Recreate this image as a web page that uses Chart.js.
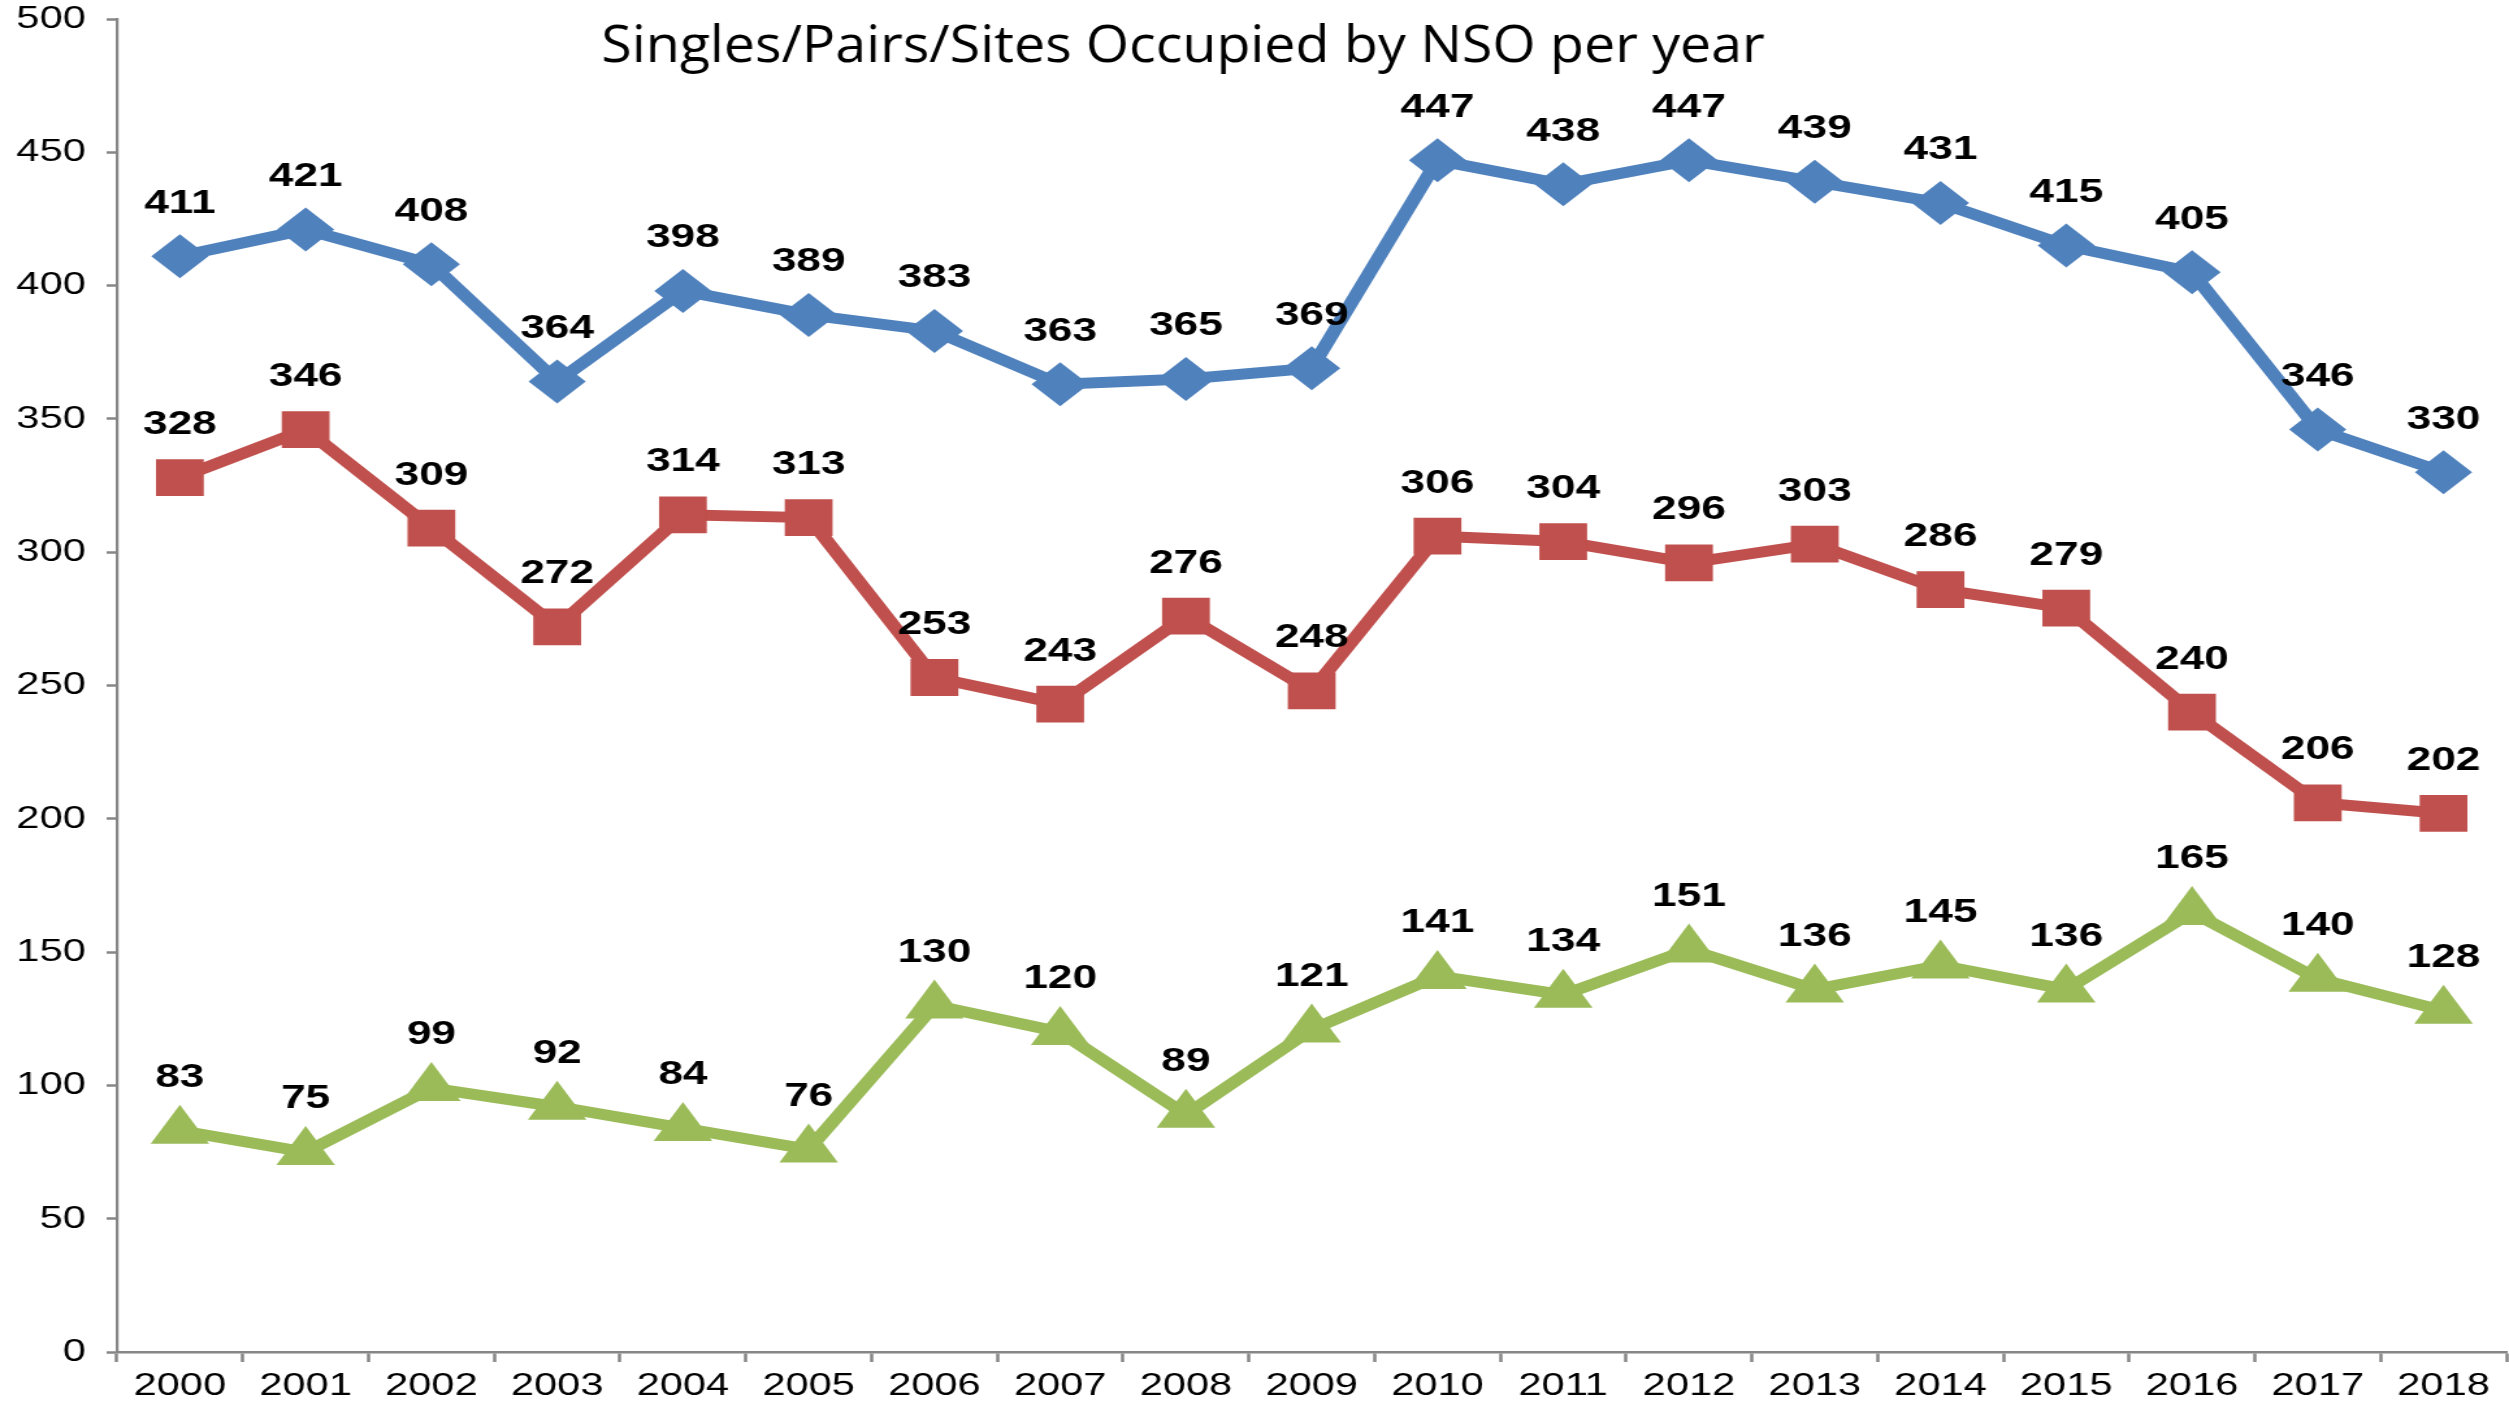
<!DOCTYPE html>
<html lang="en">
  <head>
    <meta charset="UTF-8" />
    <style>
      html, body {
        margin: 0;
        padding: 0;
        background-color: #ffffff;
        overflow: hidden;
      }
      /* the original picture is stretched sideways, so draw narrow and widen it */
      .stretch {
        width: 1930px;
        height: 1404px;
        transform: scaleX(1.3);
        transform-origin: 0 0;
      }
      canvas {
        display: block;
      }
    </style>
    <script src="https://cdn.jsdelivr.net/npm/chart.js"></script>
    <title>NSO per year</title>
  </head>
  <body>
    <div class="stretch">
      <canvas id="nsoChart" width="1930" height="1404"></canvas>
    </div>

    <script>
      const years = ["2000", "2001", "2002", "2003", "2004", "2005", "2006", "2007", "2008", "2009",
        "2010", "2011", "2012", "2013", "2014", "2015", "2016", "2017", "2018"];
      const sites = [411, 421, 408, 364, 398, 389, 383, 363, 365, 369, 447, 438, 447, 439, 431, 415, 405, 346, 330];
      const pairs = [328, 346, 309, 272, 314, 313, 253, 243, 276, 248, 306, 304, 296, 303, 286, 279, 240, 206, 202];
      const singles = [83, 75, 99, 92, 84, 76, 130, 120, 89, 121, 141, 134, 151, 136, 145, 136, 165, 140, 128];
      const chartTitle = "Singles/Pairs/Sites Occupied by NSO per year";

      const axisGray = "#868686";

      // value labels above each point
      const valueLabels = {
        id: "valueLabels",
        afterDatasetsDraw(chart) {
          const ctx = chart.ctx;
          ctx.save();
          ctx.font = "bold 34px 'Liberation Sans', Arial, sans-serif";
          ctx.fillStyle = "#000000";
          ctx.textAlign = "center";
          ctx.textBaseline = "middle";
          chart.data.datasets.forEach((ds, i) => {
            const meta = chart.getDatasetMeta(i);
            meta.data.forEach((pt, j) => {
              ctx.fillText(String(ds.data[j]), pt.x, pt.y - 53);
            });
          });
          ctx.restore();
        },
      };

      const titleText = {
        id: "titleText",
        afterDraw(chart) {
          const ctx = chart.ctx;
          ctx.save();
          ctx.font = "52px 'Open Sans', 'Noto Sans', sans-serif";
          ctx.fillStyle = "#000000";
          ctx.textAlign = "center";
          ctx.textBaseline = "alphabetic";
          ctx.fillText(chartTitle, 910, 62, 895);
          ctx.restore();
        },
      };

      var ctx = document.getElementById("nsoChart").getContext("2d");
      var myChart = new Chart(ctx, {
        type: "line",
        data: {
          labels: years,
          datasets: [
            {
              label: "Sites",
              data: sites,
              borderColor: "#4F81BD",
              backgroundColor: "#4F81BD",
              borderWidth: 11,
              pointStyle: "rectRot",
              pointRadius: 22,
              pointBorderWidth: 0,
              tension: 0,
            },
            {
              label: "Pairs",
              data: pairs,
              borderColor: "#C0504D",
              backgroundColor: "#C0504D",
              borderWidth: 11,
              pointStyle: "rect",
              pointRadius: 26,
              pointBorderWidth: 0,
              tension: 0,
            },
            {
              label: "Singles",
              data: singles,
              borderColor: "#9BBB59",
              backgroundColor: "#9BBB59",
              borderWidth: 11,
              pointStyle: "triangle",
              pointRadius: 26,
              pointBorderWidth: 0,
              tension: 0,
            },
          ],
        },
        options: {
          responsive: false,
          devicePixelRatio: 1,
          animation: false,
          layout: {
            autoPadding: false,
            padding: { top: 0, right: 2, left: 0, bottom: 0 },
          },
          plugins: {
            legend: { display: false },
            title: { display: false },
            tooltip: { enabled: false },
          },
          scales: {
            x: {
              offset: true,
              grid: {
                offset: true,
                drawOnChartArea: false,
                drawTicks: true,
                tickLength: 10,
                tickWidth: 2.5,
                color: axisGray,
              },
              border: { color: axisGray, width: 2.5 },
              ticks: {
                color: "#000000",
                padding: 5,
                maxRotation: 0,
                font: { family: "'Liberation Sans', Arial, sans-serif", size: 32 },
              },
              afterFit(scale) {
                scale.height = 52;
              },
            },
            y: {
              min: 0,
              max: 500,
              grid: {
                drawOnChartArea: false,
                drawTicks: true,
                tickLength: 8,
                tickWidth: 2.5,
                color: axisGray,
              },
              border: { color: axisGray, width: 2.2 },
              ticks: {
                stepSize: 50,
                color: "#000000",
                padding: 16,
                font: { family: "'Liberation Sans', Arial, sans-serif", size: 32 },
              },
              afterFit(scale) {
                scale.width = 90;
                // top of the axis sits close to the canvas edge
                scale.paddingTop = 19;
                scale.paddingBottom = 0;
              },
            },
          },
        },
        plugins: [valueLabels, titleText],
      });
    </script>
  </body>
</html>
